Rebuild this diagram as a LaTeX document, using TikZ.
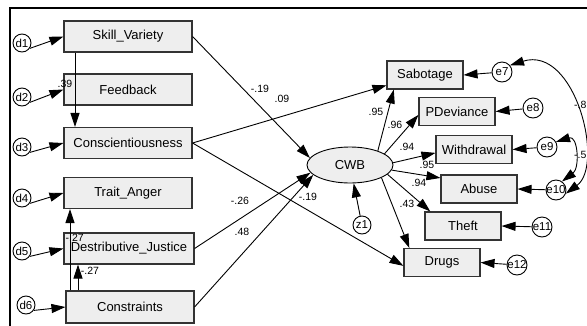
\documentclass[tikz,border=0pt]{standalone}
\usepackage{fontspec}
\setmainfont{Liberation Sans}
\usetikzlibrary{arrows.meta,shapes.geometric}
\definecolor{boxfill}{HTML}{EEEEEE}
\definecolor{boxline}{HTML}{333333}
\newcommand{\ctext}[1]{\makebox[0pt]{#1}}
\begin{document}
\begin{tikzpicture}[x=1pt,y=-1pt,
  box/.style={draw=boxline,fill=boxfill,line width=1.1pt,inner sep=0pt,font=\fontsize{13}{15}\selectfont},
  lbox/.style={box,minimum width=128,minimum height=31},
  rbox/.style={box,minimum width=76,minimum height=28},
  errd/.style={circle,draw=black,line width=0.9pt,fill=white,inner sep=0pt,minimum size=18,font=\fontsize{11.5}{11.5}\selectfont},
  erre/.style={circle,draw=black,line width=0.9pt,fill=white,inner sep=0pt,minimum size=20,font=\fontsize{11.5}{11.5}\selectfont},
  lab/.style={inner sep=0pt,font=\fontsize{10.5}{10.5}\selectfont},
  arr/.style={line width=0.9pt,-{Triangle[length=14pt,width=9pt]}},
  dbl/.style={line width=0.9pt,{Triangle[length=14pt,width=9pt]}-{Triangle[length=14pt,width=9pt]}}]
% canvas
\fill[white] (0,0) rectangle (587,325);
\useasboundingbox (0,0) rectangle (587,325);
\draw[line width=1.6pt] (10,326) -- (10,8) -- (588,8);

% left boxes
\node[lbox] (sv)   at (128,36.5) {Skill\_Variety};
\node[lbox] (fb)   at (128,89.5) {Feedback};
\node[lbox] (con)  at (128,143)  {Conscientiousness};
\node[lbox] (ta)   at (128,193)  {Trait\_Anger};
\node[lbox,minimum width=130] (dj)   at (129,248.5) {Destributive\_Justice};
\node[lbox,minimum width=128,minimum height=32] (cons) at (130,307) {Constraints};

% latent
\node[ellipse,draw=black,fill=boxfill,line width=0.9pt,minimum width=86,minimum height=36,inner sep=0pt,font=\fontsize{13}{15}\selectfont] (cwb) at (350,165) {CWB};

% right boxes
\node[rbox] (sab)   at (425,75)    {Sabotage};
\node[rbox] (pdev)  at (457,111.5) {PDeviance};
\node[rbox] (wd)    at (474,149.5) {Withdrawal};
\node[rbox] (abu)   at (479,189)   {Abuse};
\node[rbox] (theft) at (463,226)   {Theft};
\node[rbox] (drugs) at (442,262.5) {Drugs};

% error terms
\node[errd] (d1) at (22,43)  {\ctext{d1}};
\node[errd] (d2) at (22,97)  {\ctext{d2}};
\node[errd] (d3) at (22,147) {\ctext{d3}};
\node[errd] (d4) at (22,198) {\ctext{d4}};
\node[errd] (d5) at (22,251) {\ctext{d5}};
\node[errd] (d6) at (26,305) {\ctext{d6}};
\node[errd] (z1) at (362,225) {\ctext{z1}};
\node[erre] (e7)  at (502,72)  {\ctext{e7}};
\node[erre] (e8)  at (533,108) {\ctext{e8}};
\node[erre] (e9)  at (547,147) {\ctext{e9}};
\node[erre] (e10) at (556,190) {\ctext{e10}};
\node[erre] (e11) at (542,227) {\ctext{e11}};
\node[erre] (e12) at (517,265) {\ctext{e12}};

% d arrows
\draw[arr] (d1.-35) -- (sv.west);
\draw[arr] (d2.-35) -- (fb.west);
\draw[arr] (d3.-35) -- (con.west);
\draw[arr] (d4.-35) -- (ta.west);
\draw[arr] (d5.-35) -- (dj.west);
\draw[arr] (d6.-35) -- (cons.west);

% left vertical paths
\draw[arr] ([xshift=-53]sv.south) -- ([xshift=-53]con.north);
\draw[arr] ([xshift=-60]cons.north) -- ([xshift=-58]ta.south);
\draw[arr] ([xshift=-52]cons.north) -- ([xshift=-51]dj.south);

% structural paths
\draw[arr] (sv.east) -- (cwb.170);
\draw[arr] (con.east) -- (sab.195);
\draw[arr] (con.east) -- (drugs.185);
\draw[arr] (dj.east) -- (cwb.191);
\draw[arr] (cons.east) -- (cwb.195);
\draw[arr] (z1) -- (cwb);

% measurement paths
\draw[arr] (cwb.27)  -- (sab.205);
\draw[arr] (cwb.18)  -- (pdev.185);
\draw[arr] (cwb.3)   -- (wd.185);
\draw[arr] (cwb.-7)  -- (abu.164);
\draw[arr] (cwb.-14) -- (theft.156);
\draw[arr] (cwb.-22) -- (drugs.156);

% residuals
\draw[arr] (e7)  -- (sab.east);
\draw[arr] (e8)  -- (pdev.east);
\draw[arr] (e9)  -- (wd.east);
\draw[arr] (e10) -- (abu.east);
\draw[arr] (e11) -- (theft.east);
\draw[arr] (e12) -- (drugs.east);

% covariances
\draw[dbl] (e7.40) .. controls (575,45) and (605,165) .. (e10.-20);
\draw[dbl] (e9.30) .. controls (578,135) and (580,168) .. (e10.55);

% labels
\node[lab] (l39) at (65,84) {.39};
\node[lab,anchor=east] (l27a) at (84,238) {-.27};
\node[lab] (l27b) at (90,271) {-.27};
\node[lab] (l19a) at (260,89) {-.19};
\node[lab] (l09) at (282,99) {.09};
\node[lab] (l26) at (240,201) {-.26};
\node[lab] (l48) at (242,232) {.48};
\node[lab] (l19b) at (308,197) {-.19};
\node[lab] (l95a) at (376,112) {.95};
\node[lab] (l96) at (395,125) {.96};
\node[lab] (l94a) at (407,147) {.94};
\node[lab] (l95b) at (427,165) {.95};
\node[lab] (l94b) at (419,183) {.94};
\node[lab] (l43) at (407,204) {.43};
\node[lab,anchor=west] (l8) at (574,105) {-.8};
\node[lab,anchor=west] (l5) at (574,155) {-.5};
\end{tikzpicture}
\end{document}
